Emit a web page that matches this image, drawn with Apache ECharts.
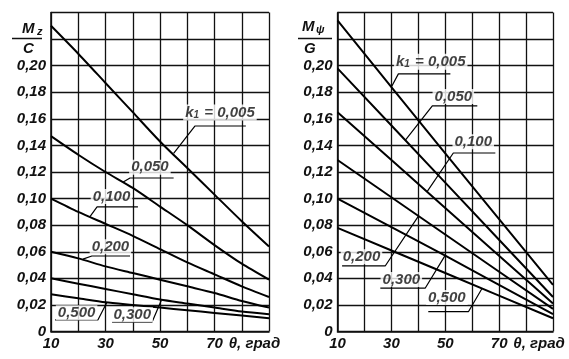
<!DOCTYPE html>
<html>
<head>
<meta charset="utf-8">
<script src="https://cdn.jsdelivr.net/npm/echarts@6/dist/echarts.min.js"></script>
<style>
html,body{margin:0;padding:0;background:#fff;}
#chart{width:569px;height:359px;}
</style>
</head>
<body>
<div id="chart"></div>
<script>
// ---- data ----
const theta = [10, 20, 30, 40, 50, 60, 70, 80, 90];
const kLabels = ['0,005', '0,050', '0,100', '0,200', '0,300', '0,500'];
// left chart: Mz / G
const mz005 = [0.230, 0.209, 0.187, 0.165, 0.143, 0.123, 0.103, 0.083, 0.064];
const mz050 = [0.147, 0.133, 0.120, 0.108, 0.094, 0.080, 0.065, 0.051, 0.039];
const mz100 = [0.100, 0.090, 0.081, 0.072, 0.062, 0.052, 0.043, 0.034, 0.026];
const mz200 = [0.060, 0.055, 0.049, 0.044, 0.039, 0.034, 0.029, 0.023, 0.018];
const mz300 = [0.040, 0.036, 0.032, 0.028, 0.024, 0.021, 0.018, 0.015, 0.013];
const mz500 = [0.028, 0.025, 0.022, 0.020, 0.018, 0.016, 0.014, 0.012, 0.010];
// right chart: Mphi / G (straight lines, read at 10, 50, 90)
const thetaR = [10, 50, 90];
const mp005 = [0.234, 0.134, 0.035];
const mp050 = [0.198, 0.112, 0.026];
const mp100 = [0.165, 0.093, 0.021];
const mp200 = [0.129, 0.073, 0.017];
const mp300 = [0.100, 0.057, 0.013];
const mp500 = [0.078, 0.044, 0.010];
const yTicks = [0, 0.02, 0.04, 0.06, 0.08, 0.10, 0.12, 0.14, 0.16, 0.18, 0.20];

// annotation labels (data coords): text position, leader polyline
const notesL = [
  {t: 0, at: [72, 0.1648], leader: [[55, 0.134], [62.8, 0.1546], [81.5, 0.1546]]},
  {t: 1, at: [46.3, 0.1236], leader: [[36.5, 0.1125], [39, 0.1155], [55, 0.1155]]},
  {t: 2, at: [32.2, 0.1015], leader: [[24.3, 0.0865], [26.9, 0.0937], [41.9, 0.0937]]},
  {t: 3, at: [31.8, 0.0638], leader: [[21.7, 0.0545], [25.0, 0.0568], [39.0, 0.0568]]},
  {t: 5, at: [19.4, 0.0142], leader: [[30.5, 0.0218], [27.2, 0.0087], [11.5, 0.0087]]},
  {t: 4, at: [39.8, 0.0126], leader: [[50.5, 0.0235], [47.1, 0.0071], [32.4, 0.0071]]}
];
const notesR = [
  {t: 0, at: [44.6, 0.2030], leader: [[30, 0.184], [32.6, 0.1938], [51.9, 0.1938]]},
  {t: 1, at: [53.0, 0.1768], leader: [[35.2, 0.144], [45.2, 0.1697], [61.9, 0.1697]]},
  {t: 2, at: [60.4, 0.1428], leader: [[43.2, 0.105], [53.0, 0.1343], [68.6, 0.1343]]},
  {t: 3, at: [18.9, 0.0563], leader: [[40.1, 0.087], [27.7, 0.0493], [11.7, 0.0493]]},
  {t: 4, at: [33.7, 0.0391], leader: [[49.8, 0.0567], [42.6, 0.0327], [25.9, 0.0327]]},
  {t: 5, at: [50.6, 0.0255], leader: [[63.7, 0.0325], [58.6, 0.0149], [43.7, 0.0149]]}
];

// ---- chart ----
const FONT = '"Liberation Sans Narrow", "Liberation Sans", "DejaVu Sans", sans-serif';
const INK = '#111';
const FS = 15;
const chart = echarts.init(document.getElementById('chart'), null, {renderer: 'canvas'});

function yFmt(v) {
  if (v > 0.205) return '';
  if (Math.abs(v) < 1e-9) return '0';
  return v.toFixed(2).replace('.', ',');
}
function xFmt(v) {
  return (v === 10 || v === 30 || v === 50 || v === 70) ? String(v) : '';
}
function makeX(gi) {
  return {
    gridIndex: gi, type: 'value', min: 10, max: 90, interval: 10,
    axisLine: {show: true, lineStyle: {color: INK, width: 1.6}},
    axisTick: {show: false},
    splitLine: {show: true, lineStyle: {color: INK, width: 1.3}},
    axisLabel: {formatter: xFmt, color: INK, fontFamily: FONT, fontStyle: 'italic', fontWeight: 'bold', fontSize: FS, margin: 5},
    name: 'θ, град', nameLocation: 'end', nameGap: 4,
    nameTextStyle: {color: INK, fontFamily: FONT, fontStyle: 'italic', fontWeight: 'bold', fontSize: FS, align: 'right', verticalAlign: 'top', padding: [5, 0, 0, 0]}
  };
}
function makeY(gi) {
  return {
    gridIndex: gi, type: 'value', min: 0, max: 0.24, interval: 0.02,
    axisLine: {show: true, lineStyle: {color: INK, width: 1.6}},
    axisTick: {show: false},
    splitLine: {show: true, lineStyle: {color: INK, width: 1.3}},
    axisLabel: {formatter: yFmt, color: INK, fontFamily: FONT, fontStyle: 'italic', fontWeight: 'bold', fontSize: FS, margin: 5}
  };
}

const series = [];
function addCurve(gi, xs, ys) {
  series.push({
    type: 'line', xAxisIndex: gi, yAxisIndex: gi, silent: true,
    symbol: 'none', smooth: 0.25, z: 3,
    lineStyle: {color: '#000', width: 2},
    data: xs.map((x, i) => [x, ys[i]])
  });
}
[mz005, mz050, mz100, mz200, mz300, mz500].forEach(ys => addCurve(0, theta, ys));
[mp005, mp050, mp100, mp200, mp300, mp500].forEach(ys => addCurve(1, thetaR, ys));

function addNotes(gi, notes) {
  notes.forEach(n => {
    series.push({
      type: 'line', xAxisIndex: gi, yAxisIndex: gi, silent: true,
      symbol: 'none', z: 4,
      lineStyle: {color: '#000', width: 1.2},
      data: n.leader
    });
  });
  series.push({
    type: 'scatter', xAxisIndex: gi, yAxisIndex: gi, silent: true,
    symbolSize: 0, z: 5,
    data: notes.map(n => [n.at[0], n.at[1], n.t]),
    label: {
      show: true, position: 'inside',
      formatter: p => p.data[2] === 0 ? '{t|k}{s|1}{t| = ' + kLabels[0] + '}' : '{t|' + kLabels[p.data[2]] + '}',
      backgroundColor: '#fff', padding: [0, 2],
      rich: {
        t: {fontFamily: FONT, fontStyle: 'italic', fontWeight: 'bold', fontSize: FS, color: INK},
        s: {fontFamily: FONT, fontStyle: 'italic', fontWeight: 'bold', fontSize: 10, color: INK, verticalAlign: 'bottom', padding: [6, 1, 0, 0]}
      }
    }
  });
}
addNotes(0, notesL);
addNotes(1, notesR);

const tStyle = {fontFamily: FONT, fontStyle: 'italic', fontWeight: 'bold', fontSize: FS, fill: INK};
const option = {
  backgroundColor: '#fff',
  animation: false,
  grid: [
    {left: 51, top: 12.5, width: 218, height: 319},
    {left: 337.5, top: 12.5, width: 215.5, height: 319}
  ],
  xAxis: [makeX(0), makeX(1)],
  yAxis: [makeY(0), makeY(1)],
  series: series,
  graphic: [
    {type: 'text', left: 22, top: 21, style: Object.assign({text: 'M'}, tStyle)},
    {type: 'text', left: 37, top: 26, style: Object.assign({}, tStyle, {text: 'z', fontSize: 11})},
    {type: 'line', shape: {x1: 12, y1: 38.5, x2: 42, y2: 38.5}, style: {stroke: INK, lineWidth: 1.5}},
    {type: 'text', left: 23, top: 41, style: Object.assign({text: 'C'}, tStyle)},
    {type: 'text', left: 302, top: 19, style: Object.assign({text: 'M'}, tStyle)},
    {type: 'text', left: 316, top: 24, style: Object.assign({}, tStyle, {text: 'ψ', fontSize: 11})},
    {type: 'line', shape: {x1: 298, y1: 38.5, x2: 332, y2: 38.5}, style: {stroke: INK, lineWidth: 1.5}},
    {type: 'text', left: 304, top: 41, style: Object.assign({text: 'G'}, tStyle)}
  ]
};
chart.setOption(option);
</script>
</body>
</html>
